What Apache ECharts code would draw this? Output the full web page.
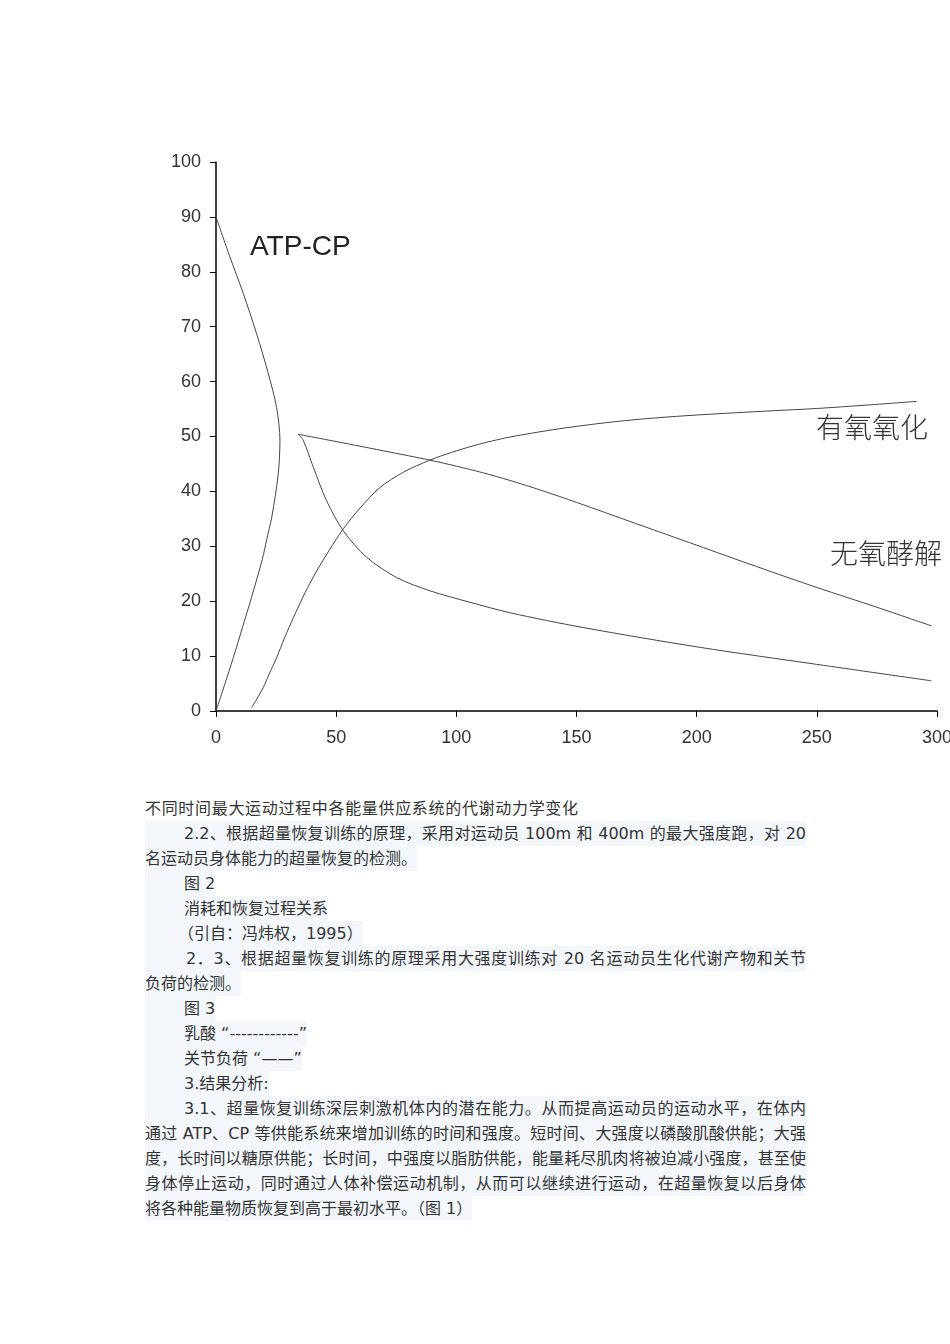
<!DOCTYPE html>
<html>
<head>
<meta charset="utf-8">
<script src="https://cdn.jsdelivr.net/npm/echarts@6/dist/echarts.min.js"></script>
<style>
  html, body { margin: 0; padding: 0; background: #fff; }
  #page { position: relative; width: 950px; height: 1344px; overflow: hidden; }
  #chart { position: absolute; left: 0; top: 0; width: 950px; height: 760px; }
  .ln {
    position: absolute; left: 145px; height: 25px; line-height: 25px;
    font-family: "DejaVu Sans", "Noto Sans CJK SC", sans-serif;
    font-size: 16px; color: #333; white-space: nowrap;
  }
  .ln span { background: #f3f7fc; display: inline-block; }
  .ln span.j { text-align: justify; text-align-last: justify; }
</style>
</head>
<body>
<div id="page">
  <div id="chart"></div>
  <div id="text"></div>
</div>
<script>
// curves: [time, percent]
const atpCp = [
  [0, 90], [5.8, 82.7], [11.4, 76], [16.9, 68.7], [21.8, 61.4],
  [25.2, 55.3], [26.6, 49.3], [25.9, 43.2], [23.2, 35.3], [21.1, 31.2],
  [19.3, 27.7], [14.8, 20.7], [11, 15.2], [7.2, 9.7], [3.6, 4.8], [0, 0]
];
const anaerobicUpper = [
  [34.2, 50.4], [47.4, 49.3], [58, 48.4], [69.6, 47.4], [80, 46.5],
  [89, 45.7], [100, 44.6], [111, 43.4], [122.3, 42], [136, 40.1],
  [150, 38], [175, 34.1], [200, 30.2], [225, 26.3], [250, 22.5],
  [275, 18.9], [297.7, 15.5]
];
const anaerobicLower = [
  [34.2, 50.4], [36.3, 49.3], [40.5, 44.4], [46, 38.3], [53, 32.8],
  [62.7, 28], [75.2, 24.3], [89, 21.9], [105.7, 19.8], [122.3, 17.9],
  [152.8, 15.2], [201.3, 11.6], [249.9, 8.5], [297.7, 5.5]
];
const aerobic = [
  [14.8, 0.6], [17, 2.2], [19.7, 4.3], [22, 6.6], [25.2, 9.7],
  [28.5, 13.3], [32.2, 17], [37, 21.5], [41.9, 25.5], [47, 29.2],
  [53, 33.2], [60, 37], [68.2, 40.7], [78, 43.5], [89, 45.7],
  [98, 47.1], [107, 48.3], [115, 49.2], [122.3, 49.9], [134, 50.8],
  [145.9, 51.6], [162, 52.5], [177.7, 53.2], [196, 53.8], [215.2, 54.3],
  [232, 54.7], [249.9, 55.1], [270, 55.7], [291.5, 56.4]
];
const xTicks = [0, 300, 50];
const yTicks = [0, 100, 10];

const bodyLines = [
  { t: "不同时间最大运动过程中各能量供应系统的代谢动力学变化", pad: 0, w: 433, plain: true },
  { t: "2.2、根据超量恢复训练的原理，采用对运动员 100m 和 400m 的最大强度跑，对 20", pad: 39, w: 622 },
  { t: "名运动员身体能力的超量恢复的检测。", pad: 0 },
  { t: "图 2", pad: 39 },
  { t: "消耗和恢复过程关系", pad: 39 },
  { t: "（引自：冯炜权，1995）", pad: 33 },
  { t: "2．3、根据超量恢复训练的原理采用大强度训练对 20 名运动员生化代谢产物和关节", pad: 41, w: 620 },
  { t: "负荷的检测。", pad: 0 },
  { t: "图 3", pad: 39 },
  { t: "乳酸 “------------”", pad: 39 },
  { t: "关节负荷 “——”", pad: 39 },
  { t: "3.结果分析:", pad: 39 },
  { t: "3.1、超量恢复训练深层刺激机体内的潜在能力。从而提高运动员的运动水平，在体内", pad: 39, w: 622 },
  { t: "通过 ATP、CP 等供能系统来增加训练的时间和强度。短时间、大强度以磷酸肌酸供能；大强", pad: 0, w: 661 },
  { t: "度，长时间以糖原供能；长时间，中强度以脂肪供能，能量耗尽肌肉将被迫减小强度，甚至使", pad: 0, w: 661 },
  { t: "身体停止运动，同时通过人体补偿运动机制，从而可以继续进行运动，在超量恢复以后身体", pad: 0, w: 661 },
  { t: "将各种能量物质恢复到高于最初水平。（图 1）", pad: 0 }
];

const textBox = document.getElementById('text');
bodyLines.forEach((l, i) => {
  const d = document.createElement('div');
  d.className = 'ln';
  d.style.top = (796 + i * 25) + 'px';
  const s = document.createElement('span');
  s.textContent = l.t;
  s.style.paddingLeft = l.pad + 'px';
  if (l.w) { s.className = 'j'; s.style.width = l.w + 'px'; }
  if (l.plain) s.style.background = 'none';
  d.appendChild(s);
  textBox.appendChild(d);
});

const chart = echarts.init(document.getElementById('chart'));
const lineStyle = { color: '#444', width: 1 };
const mkSeries = (name, data) => ({
  name, type: 'line', data, smooth: 0.3, symbol: 'none',
  lineStyle, silent: true
});

chart.setOption({
  animation: false,
  grid: { left: 216, right: 13, top: 162, bottom: 49, containLabel: false, outerBoundsMode: 'none' },
  xAxis: {
    type: 'value', min: xTicks[0], max: xTicks[1], interval: xTicks[2],
    splitLine: { show: false },
    axisLine: { show: true, lineStyle: { color: '#000', width: 1.5 } },
    axisTick: { show: true, length: 6, lineStyle: { color: '#000' } },
    axisLabel: { color: '#333', fontSize: 18, margin: 18, fontFamily: 'Liberation Sans', hideOverlap: false }
  },
  yAxis: {
    type: 'value', min: yTicks[0], max: yTicks[1], interval: yTicks[2],
    splitLine: { show: false },
    axisLine: { show: true, lineStyle: { color: '#000', width: 1.5 } },
    axisTick: { show: true, length: 6, lineStyle: { color: '#000' } },
    axisLabel: { color: '#333', fontSize: 18, margin: 15, fontFamily: 'Liberation Sans' }
  },
  graphic: [
    { type: 'text', left: 250, top: 233,
      style: { text: 'ATP-CP', fontSize: 28, fontFamily: 'Liberation Sans', fill: '#222' } },
    { type: 'text', left: 816, top: 413,
      style: { text: '有氧氧化', fontSize: 28, fontFamily: 'Noto Sans CJK SC', fontWeight: 300, fill: '#333' } },
    { type: 'text', left: 830, top: 539,
      style: { text: '无氧酵解', fontSize: 28, fontFamily: 'Noto Sans CJK SC', fontWeight: 300, fill: '#333' } }
  ],
  series: [
    mkSeries('ATP-CP', atpCp),
    mkSeries('无氧酵解', anaerobicUpper),
    mkSeries('无氧酵解2', anaerobicLower),
    mkSeries('有氧氧化', aerobic)
  ]
});
</script>
</body>
</html>
